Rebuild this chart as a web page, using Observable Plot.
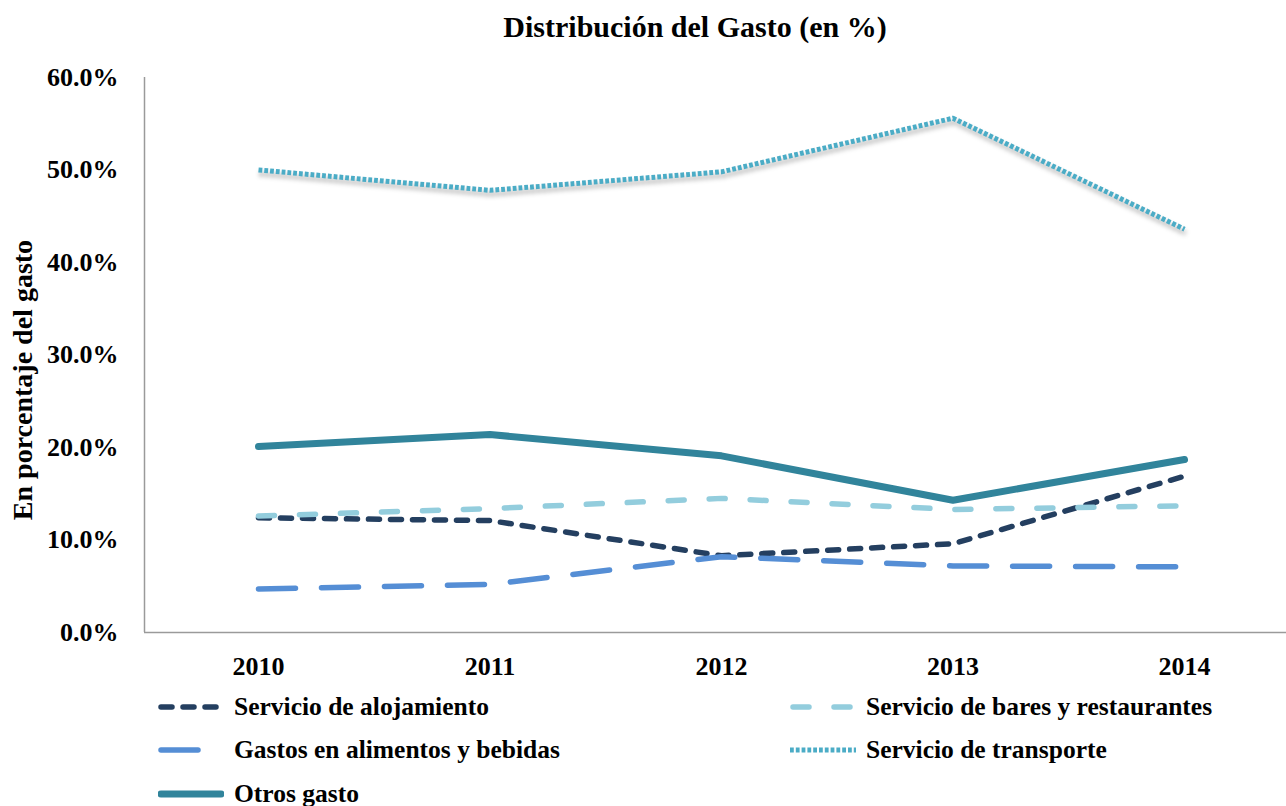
<!DOCTYPE html>
<html>
<head>
<meta charset="utf-8">
<script src="https://cdn.jsdelivr.net/npm/d3@7"></script>
<script src="https://cdn.jsdelivr.net/npm/@observablehq/plot@0.6"></script>
<style>
  body { margin: 0; background: #fff; font-family: "Liberation Serif", "DejaVu Serif", serif; font-weight: bold; color: #000; }
  #title { width: 1286px; box-sizing: border-box; padding-left: 104px; height: 55px; line-height: 54px; text-align: center; font-size: 30px; }
  #legend { position: relative; width: 1286px; height: 121px; }
  .item { position: absolute; display: flex; align-items: center; height: 43px; font-size: 25.5px; white-space: nowrap; }
  .item svg { margin-right: 10px; }
</style>
</head>
<body>
<div id="title">Distribución del Gasto (en %)</div>
<div id="chart"></div>
<div id="legend"></div>
<script>
const years = [2010, 2011, 2012, 2013, 2014];
const yTicks = [0, 10, 20, 30, 40, 50, 60];
const seriesNames = [
  "Servicio de alojamiento",
  "Servicio de bares y restaurantes",
  "Gastos en alimentos y bebidas",
  "Servicio de transporte",
  "Otros gasto"
];
const alojamiento = [12.4, 12.1, 8.3, 9.6, 16.9];
const bares = [12.6, 13.4, 14.5, 13.3, 13.7];
const alimentos = [4.7, 5.2, 8.2, 7.2, 7.1];
const transporte = [50.0, 47.8, 49.8, 55.6, 43.6];
const otros = [20.1, 21.4, 19.1, 14.3, 18.7];
const seriesValues = [alojamiento, bares, alimentos, transporte, otros];

const styles = [
  {stroke: "#243F60", strokeWidth: 5.5, strokeDasharray: "11 11", strokeLinecap: "round"},
  {stroke: "#93CDDD", strokeWidth: 5.5, strokeDasharray: "16 25", strokeLinecap: "round"},
  {stroke: "#558ED5", strokeWidth: 5.5, strokeDasharray: "37 26", strokeLinecap: "round"},
  {stroke: "#4BACC6", strokeWidth: 5, strokeDasharray: "3.8 2", strokeLinecap: "butt"},
  {stroke: "#31849B", strokeWidth: 7, strokeDasharray: null, strokeLinecap: "round"}
];

const data = seriesNames.map((name, i) => years.map((yr, j) => ({name, year: yr, value: seriesValues[i][j]})));

const lineMarks = data.map((d, i) => {
  const s = styles[i];
  const opts = {x: "year", y: "value", stroke: s.stroke, strokeWidth: s.strokeWidth, strokeLinecap: s.strokeLinecap, strokeLinejoin: "round"};
  if (s.strokeDasharray) opts.strokeDasharray = s.strokeDasharray;
  return Plot.line(d, opts);
});

const chart = Plot.plot({
  width: 1286,
  height: 630,
  marginLeft: 144,
  marginRight: 0,
  marginTop: 22,
  marginBottom: 53,
  style: {fontFamily: '"Liberation Serif", "DejaVu Serif", serif', fontWeight: "bold", fontSize: "26px", color: "#000", background: "#fff"},
  x: {type: "linear", domain: [2010, 2014], insetLeft: 114, insetRight: 102, ticks: years, tickFormat: d => String(d), tickSize: 0, tickPadding: 24.5, label: null},
  y: {domain: [0, 60], ticks: yTicks, tickFormat: d => d.toFixed(1) + "%", tickSize: 0, tickPadding: 26, label: null},
  marks: [
    Plot.ruleY([0], {stroke: "#9a9a9a", strokeWidth: 1.5}),
    Plot.ruleX([years[0]], {y1: 0, y2: 60, dx: -114, stroke: "#9a9a9a", strokeWidth: 1.5}),
    Plot.text(["En porcentaje del gasto"], {frameAnchor: "left", textAnchor: "middle", rotate: -90, dx: -121, dy: 25, fontSize: 28, fontWeight: "bold", fill: "#000"}),
    ...lineMarks
  ]
});
document.getElementById("chart").appendChild(chart);

// soft shadow on the transport line as in the reference
const groups = d3.select(chart).selectAll('g[aria-label="line"]').nodes();
if (groups[3]) groups[3].setAttribute("style", "filter: drop-shadow(1px 4px 2px rgba(0,0,0,0.3))");

// legend
const legend = document.getElementById("legend");
const positions = [[158, 0], [790, 0], [158, 43.5], [790, 43.5], [158, 87]];
seriesNames.forEach((name, i) => {
  const s = styles[i];
  const item = document.createElement("div");
  item.className = "item";
  item.style.left = positions[i][0] + "px";
  item.style.top = positions[i][1] + "px";
  const dash = s.strokeDasharray ? `stroke-dasharray="${s.strokeDasharray}"` : "";
  const cap = s.strokeLinecap;
  item.innerHTML = `<svg width="66" height="14"><line x1="${cap === "round" ? 3 : 0}" y1="7" x2="${cap === "round" ? 63 : 66}" y2="7" stroke="${s.stroke}" stroke-width="${s.strokeWidth}" stroke-linecap="${cap}" ${dash}/></svg><span>${name}</span>`;
  legend.appendChild(item);
});
</script>
</body>
</html>
